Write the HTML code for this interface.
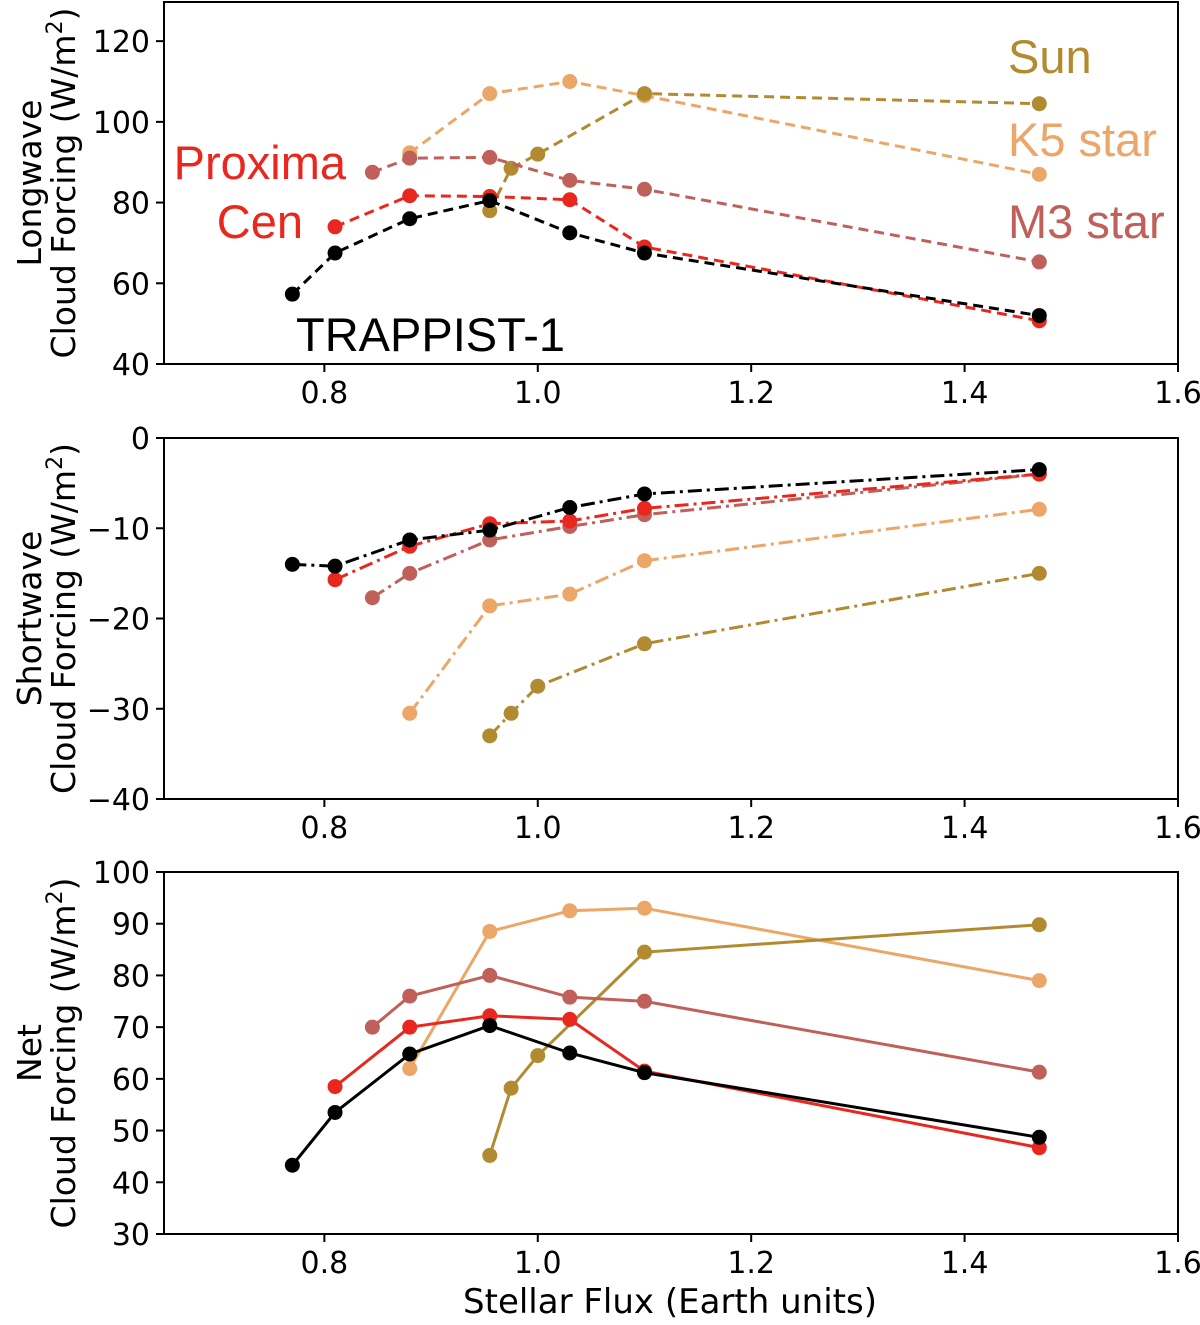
<!DOCTYPE html>
<html><head><meta charset="utf-8"><style>
html,body{margin:0;padding:0;background:#fff;}
svg text{font-family:"DejaVu Sans","Liberation Sans",sans-serif;}
svg text.ann{font-family:"Liberation Sans","DejaVu Sans",sans-serif;}
</style></head><body>
<svg id="chart" width="1200" height="1320" viewBox="0 0 1200 1320" xmlns="http://www.w3.org/2000/svg"></svg>
<script>
const xTicks=[0.8,1.0,1.2,1.4,1.6];
const tickLabels=["0.8","1.0","1.2","1.4","1.6"];
const xT=[0.77,0.81,0.88,0.955,1.03,1.10,1.47];
const xP=[0.81,0.88,0.955,1.03,1.10,1.47];
const xM=[0.845,0.88,0.955,1.03,1.10,1.47];
const xK=[0.88,0.955,1.03,1.10,1.47];
const xS=[0.955,0.975,1.0,1.10,1.47];
const lwT=[57.3,67.5,76,80.5,72.5,67.5,52];
const lwP=[74,81.7,81.5,80.7,69,50.7];
const lwM=[87.5,91,91.2,85.5,83.3,65.3];
const lwK=[92.3,107,110,106.5,87];
const lwS=[78,88.5,92,107,104.5];
const swT=[-14,-14.2,-11.3,-10.2,-7.7,-6.2,-3.5];
const swP=[-15.7,-12,-9.5,-9.2,-7.8,-4];
const swM=[-17.7,-15,-11.3,-9.8,-8.5,-4];
const swK=[-30.5,-18.6,-17.3,-13.6,-7.9];
const swS=[-33,-30.5,-27.5,-22.8,-15];
const netT=[43.3,53.5,64.8,70.3,65,61.2,48.7];
const netP=[58.5,70,72.2,71.5,61.5,46.7];
const netM=[70,76,80,75.8,75,61.3];
const netK=[62,88.5,92.5,93,79];
const netS=[45.2,58.2,64.5,84.5,89.8];
const lwTicks=[40,60,80,100,120];
const swTicks=[-40,-30,-20,-10,0];
const netTicks=[30,40,50,60,70,80,90,100];

const C={T:"#000000",P:"#e8281e",M:"#c0605a",K:"#eba668",S:"#b28a30"};
const svg=document.getElementById('chart');
const NS="http://www.w3.org/2000/svg";
function mk(tag,attrs,parent){const e=document.createElementNS(NS,tag);for(const k in attrs)e.setAttribute(k,attrs[k]);(parent||svg).appendChild(e);return e;}
const X0=164,X1=1178,XMIN=0.6497,XMAX=1.6;
function xs(v){return X0+(v-XMIN)/(XMAX-XMIN)*(X1-X0);}

function panel(name,top,bottom,ymin,ymax,yticks,ylabel1,dash,series){
  const g=mk('g',{});
  
  
  const ys=v=>bottom-(v-ymin)/(ymax-ymin)*(bottom-top);
  yticks.forEach(t=>{
    const y=ys(t);
    const l=mk('line',{x1:X0-8,x2:X0,y1:y,y2:y,stroke:'#000','stroke-width':2},g);
    
    
    const tx=mk('text',{x:X0-14,y:y+11,'text-anchor':'end','font-size':30},g);
    
    
    tx.textContent=(t<0?'\u2212'+(-t):String(t));
  });
  xTicks.forEach((t,i)=>{
    const x=xs(t);
    const l=mk('line',{x1:x,x2:x,y1:bottom,y2:bottom+8,stroke:'#000','stroke-width':2},g);
    
    
    const tx=mk('text',{x:x,y:bottom+39,'text-anchor':'middle','font-size':30},g);
    
    
    tx.textContent=tickLabels[i];
  });
  const cy=(top+bottom)/2;
  const yl=mk('text',{transform:`translate(41,${cy}) rotate(-90)`,'text-anchor':'middle','font-size':33},g);
  
  
  yl.textContent=ylabel1;
  const yl2=mk('text',{transform:`translate(75,${cy}) rotate(-90)`,'text-anchor':'middle','font-size':33},g);
  
  
  yl2.innerHTML='Cloud Forcing (W/m<tspan dy="-13" font-size="22">2</tspan><tspan dy="13">)</tspan>';
  series.forEach(s=>{
    const pts=s.x.map((v,i)=>xs(v)+','+ys(s.y[i])).join(' ');
    const pl=mk('polyline',{points:pts,fill:'none',stroke:s.c,'stroke-width':3,'stroke-dasharray':dash},g);
    
    
    s.x.forEach((v,i)=>{
      const c=mk('circle',{cx:xs(v),cy:ys(s.y[i]),r:7.5,fill:s.c},g);
      
      
    });
  });
  const fr=mk('rect',{x:X0,y:top,width:X1-X0,height:bottom-top,fill:'none',stroke:'#000','stroke-width':2},g);
  
  
}
function ser(xT_,yT,xP_,yP,xM_,yM,xK_,yK,xS_,yS){
  return [{n:'k5',c:C.K,x:xK_,y:yK},{n:'sun',c:C.S,x:xS_,y:yS},{n:'m3',c:C.M,x:xM_,y:yM},{n:'proxima',c:C.P,x:xP_,y:yP},{n:'trappist',c:C.T,x:xT_,y:yT}];
}
panel('longwave',2,364,40,129.7,lwTicks,'Longwave','10,6',ser(xT,lwT,xP,lwP,xM,lwM,xK,lwK,xS,lwS));
panel('shortwave',438,799,-40,0,swTicks,'Shortwave','14,5,3,5',ser(xT,swT,xP,swP,xM,swM,xK,swK,xS,swS));
panel('net',872,1234,30,100,netTicks,'Net','none',ser(xT,netT,xP,netP,xM,netM,xK,netK,xS,netS));

const xl=mk('text',{x:670,y:1313,'text-anchor':'middle','font-size':34});


xl.textContent='Stellar Flux (Earth units)';
const ann=[['Sun',1008,73,C.S,'sun-label','start'],['K5 star',1008,156,C.K,'k5-label','start'],['M3 star',1008,238,C.M,'m3-label','start'],['Proxima',346,179,C.P,'proxima-label','end'],['Cen',303,238,C.P,'cen-label','end'],['TRAPPIST-1',296,351,C.T,'trappist-label','start']];
ann.forEach(a=>{
  const t=mk('text',{x:a[1],y:a[2],fill:a[3],'font-size':47,'text-anchor':a[5],'class':'ann'});
  
  
  t.textContent=a[0];
});
</script>
</body></html>
